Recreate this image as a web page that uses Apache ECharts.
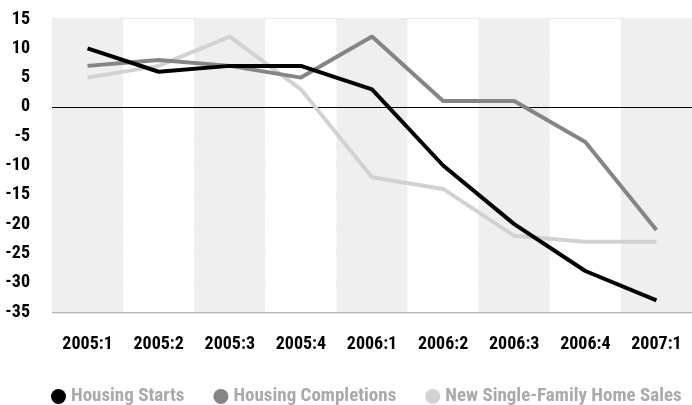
<!DOCTYPE html>
<html>
<head>
<meta charset="utf-8">
<script src="https://cdn.jsdelivr.net/npm/echarts@6/dist/echarts.min.js"></script>
<style>
  html, body { margin: 0; padding: 0; background: #fff; overflow: hidden; }
  #chart { width: 692px; height: 405px; }
</style>
</head>
<body>
<div id="chart"></div>
<script>
var quarters = ['2005:1', '2005:2', '2005:3', '2005:4', '2006:1', '2006:2', '2006:3', '2006:4', '2007:1']
var housingStarts = [10, 6, 7, 7, 3, -10, -20, -28, -33]
var housingCompletions = [7, 8, 7, 5, 12, 1, 1, -6, -21]
var newHomeSales = [5, 7, 12, 3, -12, -14, -22, -23, -23]

var font = '"Roboto Condensed", Roboto, sans-serif'

var chart = echarts.init(document.getElementById('chart'))

function lineSeries(name, data, color, z) {
    return {
        name: name,
        type: 'line',
        data: data,
        color: color,
        showSymbol: false,
        symbol: 'circle',
        lineStyle: { color: color, width: 4 },
        itemStyle: { color: color },
        z: z
    }
}

var series = [
    lineSeries('Housing Starts', housingStarts, '#000000', 5),
    lineSeries('Housing Completions', housingCompletions, '#858585', 4),
    lineSeries('New Single-Family Home Sales', newHomeSales, '#d2d2d2', 3)
]
// zero line
series[0].markLine = {
    silent: true,
    symbol: 'none',
    label: { show: false },
    lineStyle: { color: '#000', width: 1.2, type: 'solid' },
    data: [{ yAxis: 0 }],
    z: 2
}

chart.setOption({
    animation: false,
    grid: {
        left: 52,
        top: 19,
        width: 648,
        height: 293
    },
    legend: {
        left: 46,
        top: 382,
        icon: 'circle',
        itemWidth: 15,
        itemHeight: 15,
        itemGap: 29,
        textStyle: {
            color: '#aaaaaa',
            fontFamily: font,
            fontWeight: 'bold',
            fontSize: 19
        },
        data: ['Housing Starts', 'Housing Completions', 'New Single-Family Home Sales']
    },
    xAxis: {
        type: 'category',
        data: quarters,
        boundaryGap: true,
        axisLine: { show: false },
        axisTick: { show: false },
        splitLine: { show: false },
        splitArea: {
            show: true,
            areaStyle: { color: ['#efefef', '#ffffff'] }
        },
        axisLabel: {
            interval: 0,
            margin: 23,
            color: '#000',
            fontFamily: font,
            fontWeight: 'bold',
            fontSize: 18
        }
    },
    yAxis: {
        type: 'value',
        min: -35,
        max: 15,
        interval: 5,
        axisLine: { show: false },
        axisTick: { show: false },
        splitLine: { lineStyle: { color: '#b4b4b4', width: 1.3 } },
        axisLabel: {
            margin: 22,
            color: '#000',
            fontFamily: font,
            fontWeight: 'bold',
            fontSize: 18
        }
    },
    series: series
})
</script>
</body>
</html>
